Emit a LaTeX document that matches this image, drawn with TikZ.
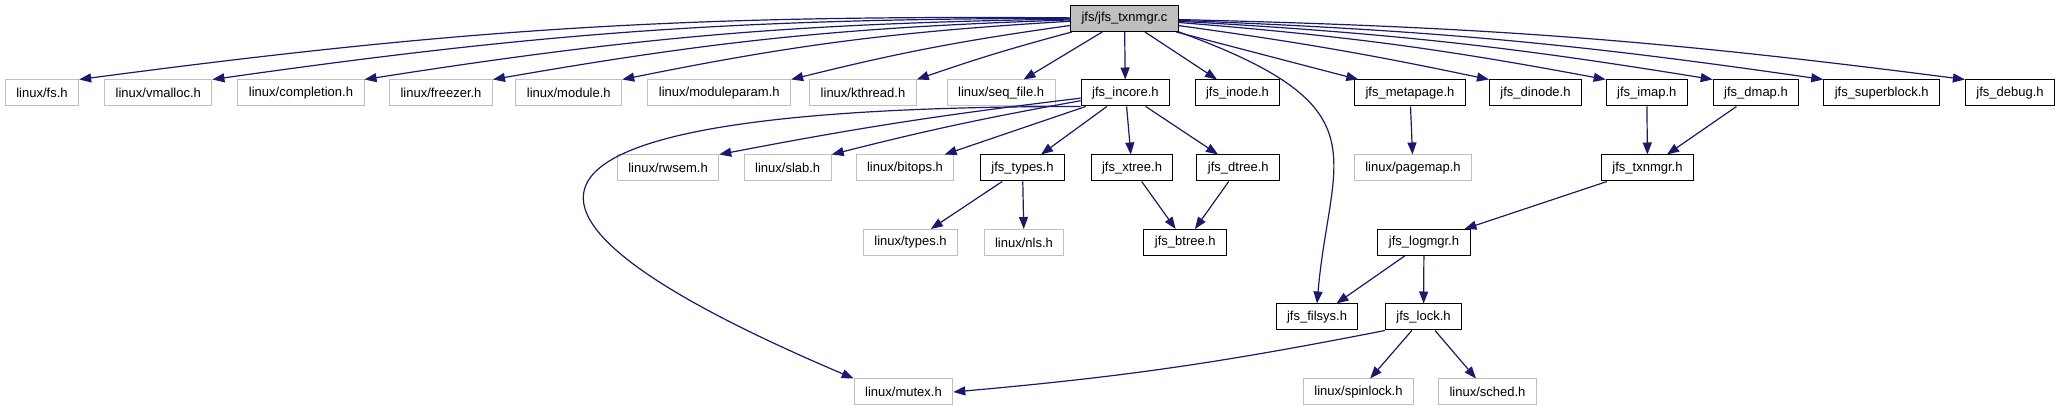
\documentclass[tikz,border=0pt]{standalone}
\usepackage{fontspec}
\setmainfont{Liberation Sans}
\usetikzlibrary{arrows.meta,positioning}
\definecolor{edgeblue}{RGB}{25,25,112}
\definecolor{extgrey}{RGB}{191,191,191}

\begin{document}
\begin{tikzpicture}[x=1pt,y=1pt,every node/.style={font=\fontsize{13}{15}\selectfont,inner xsep=11pt,inner ysep=0pt,minimum height=26pt},
  doc/.style={draw=black,line width=1pt},
  ext/.style={draw=extgrey,line width=1pt},
  incl/.style={draw=edgeblue,line width=1.2pt,-{Triangle[length=12pt,width=9pt]}}]
\useasboundingbox (0,0) rectangle (2062,-411);
% top file
\node[doc,fill=extgrey] (txnc) at (1124.5,-18.5) {jfs/jfs\_txnmgr.c};
% first row of includes
\node[ext] (fsh) at (42,-93) {linux/fs.h};
\node[ext] (vmalloc) at (158.3,-93) {linux/vmalloc.h};
\node[ext] (completion) at (301,-93) {linux/completion.h};
\node[ext] (freezer) at (441,-93) {linux/freezer.h};
\node[ext] (module) at (568.8,-93) {linux/module.h};
\node[ext] (moduleparam) at (719.3,-93) {linux/moduleparam.h};
\node[ext] (kthread) at (863,-93) {linux/kthread.h};
\node[ext] (seqfile) at (1001.2,-93) {linux/seq\_file.h};
\node[doc] (incore) at (1125.4,-93) {jfs\_incore.h};
\node[doc] (inode) at (1237.5,-93) {jfs\_inode.h};
\node[doc] (metapage) at (1410,-93) {jfs\_metapage.h};
\node[doc] (dinode) at (1535.5,-93) {jfs\_dinode.h};
\node[doc] (imap) at (1646.8,-93) {jfs\_imap.h};
\node[doc] (dmap) at (1756,-93) {jfs\_dmap.h};
\node[doc] (superblock) at (1881.7,-93) {jfs\_superblock.h};
\node[doc] (debug) at (2010,-93) {jfs\_debug.h};
% second row
\node[ext] (rwsem) at (668,-168) {linux/rwsem.h};
\node[ext] (slab) at (787.7,-168) {linux/slab.h};
\node[ext] (bitops) at (905,-168) {linux/bitops.h};
\node[doc] (jfstypes) at (1022.5,-168) {jfs\_types.h};
\node[doc] (xtree) at (1132,-168) {jfs\_xtree.h};
\node[doc] (dtree) at (1238.3,-168) {jfs\_dtree.h};
\node[ext] (pagemap) at (1413,-168) {linux/pagemap.h};
\node[doc] (txnh) at (1647.5,-168) {jfs\_txnmgr.h};
% third row
\node[ext] (ltypes) at (910.5,-242.5) {linux/types.h};
\node[ext] (nls) at (1024,-242.5) {linux/nls.h};
\node[doc] (btree) at (1185.3,-242.5) {jfs\_btree.h};
\node[doc] (logmgr) at (1424,-242.5) {jfs\_logmgr.h};
% fourth row
\node[doc] (filsys) at (1317,-317) {jfs\_filsys.h};
\node[doc] (lock) at (1423.5,-317) {jfs\_lock.h};
% bottom row
\node[ext] (mutex) at (903.5,-392) {linux/mutex.h};
\node[ext] (spinlock) at (1358.5,-392) {linux/spinlock.h};
\node[ext] (sched) at (1487.5,-392) {linux/sched.h};
% includes of jfs_txnmgr.c
\draw[incl] (txnc) to[bend right=4] (fsh.north east);
\draw[incl] (txnc) to[bend right=4] (vmalloc.north east);
\draw[incl] (txnc) to[bend right=4] (completion.north east);
\draw[incl] (txnc) to[bend right=4] (freezer.north east);
\draw[incl] (txnc) to[bend right=4] (module.north east);
\draw[incl] (txnc) to[bend right=3] (moduleparam.north east);
\draw[incl] (txnc) to[bend right=2] (kthread.north east);
\draw[incl] (txnc) -- (seqfile);
\draw[incl] (txnc) -- (incore);
\draw[incl] (txnc) -- (inode);
\draw[incl] (txnc.south east) .. controls +(-20:220) and +(85:150) .. (filsys.north);
\draw[incl] (txnc) -- (metapage);
\draw[incl] (txnc) to[bend left=2] (dinode.north west);
\draw[incl] (txnc) to[bend left=3] (imap.north west);
\draw[incl] (txnc) to[bend left=3] (dmap.north west);
\draw[incl] (txnc) to[bend left=3] (superblock.north west);
\draw[incl] (txnc) to[bend left=3] (debug.north west);
% includes of jfs_incore.h
\draw[incl] (incore.south west) .. controls +(180:620) and +(157:420) .. (mutex.north west);
\draw[incl] (incore) to[bend right=2] (rwsem.north east);
\draw[incl] (incore) to[bend right=2] (slab.north east);
\draw[incl] (incore) -- (bitops);
\draw[incl] (incore) -- (jfstypes);
\draw[incl] (incore) -- (xtree);
\draw[incl] (incore) -- (dtree);
% the rest
\draw[incl] (jfstypes) -- (ltypes);
\draw[incl] (jfstypes) -- (nls);
\draw[incl] (xtree) -- (btree);
\draw[incl] (dtree) -- (btree);
\draw[incl] (metapage) -- (pagemap);
\draw[incl] (imap) -- (txnh);
\draw[incl] (dmap) -- (txnh);
\draw[incl] (txnh) -- (logmgr);
\draw[incl] (logmgr) -- (filsys);
\draw[incl] (logmgr) -- (lock);
\draw[incl] (lock.south west) to[bend left=3] (mutex.east);
\draw[incl] (lock) -- (spinlock);
\draw[incl] (lock) -- (sched);
\end{tikzpicture}
\end{document}
